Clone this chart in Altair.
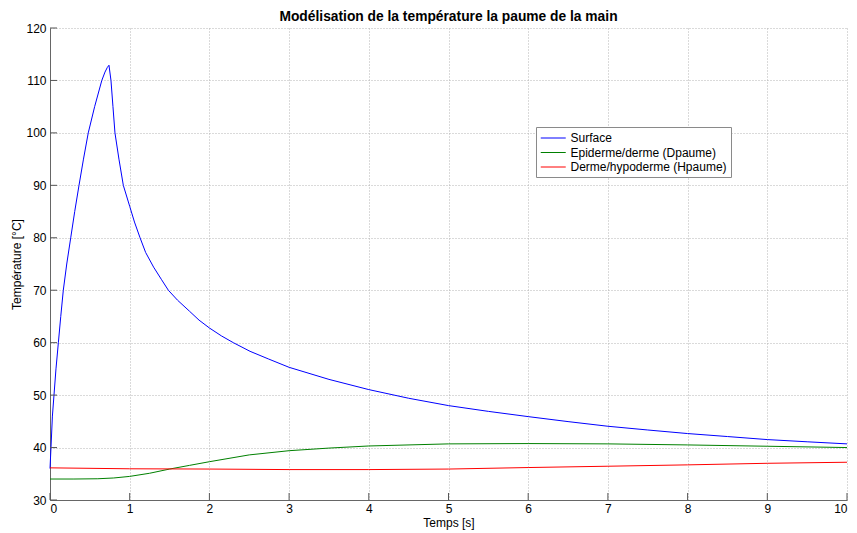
import altair as alt
import pandas as pd

# Surface (blue)
t_surface = [0, 0.0125, 0.03, 0.05, 0.075, 0.105, 0.135, 0.167, 0.21, 0.26, 0.31, 0.364, 0.42,
             0.48, 0.56, 0.65, 0.69, 0.72, 0.74,
             0.765, 0.79, 0.815, 0.865, 0.92, 1.0, 1.06, 1.13, 1.2, 1.3, 1.4, 1.485, 1.6, 1.75,
             1.87, 2.0, 2.15, 2.3, 2.51, 2.74, 3.0,
             3.5, 4.0, 4.5, 5.0, 5.5, 6.0, 6.5, 7.0, 7.5, 8.0, 8.5, 9.0, 9.5, 10.0]
T_surface = [36, 40, 46, 50, 55, 60, 65, 70, 75, 80, 85, 90, 95,
             100, 105, 110, 111.6, 112.5, 112.9,
             110, 105, 100, 95, 90, 86, 83, 80, 77.2, 74.4, 72, 70, 68.1, 66.0,
             64.3, 62.8, 61.3, 60, 58.35, 56.9, 55.3,
             53.0, 51.05, 49.4, 48.0, 46.9, 45.9, 44.95, 44.06, 43.35, 42.67, 42.1, 41.52, 41.1, 40.7]

# Epiderme/derme (green)
t_dpaume = [0, 0.3, 0.6, 0.8, 1.0, 1.25, 1.5, 1.75, 2.0, 2.5, 3.0, 3.5, 4.0, 5.0, 6.0, 7.0, 8.0, 9.0, 10.0]
T_dpaume = [34.0, 34.0, 34.05, 34.2, 34.5, 35.1, 35.9, 36.6, 37.3, 38.6, 39.4, 39.9, 40.3, 40.7, 40.76,
            40.7, 40.5, 40.25, 40.0]

# Derme/hypoderme (red)
t_hpaume = [0, 1, 2, 3, 4, 5, 6, 7, 8, 9, 10]
T_hpaume = [36.13, 35.95, 35.9, 35.8, 35.8, 35.9, 36.19, 36.44, 36.7, 37.0, 37.2]

series_names = ["Surface", "Epiderme/derme (Dpaume)", "Derme/hypoderme (Hpaume)"]
series_colors = ["#0000ff", "#008000", "#ff0000"]

x_ticks = list(range(0, 11))
y_ticks = list(range(30, 121, 10))

rows = []
for name, ts, Ts in zip(series_names, [t_surface, t_dpaume, t_hpaume], [T_surface, T_dpaume, T_hpaume]):
    for i, (a, b) in enumerate(zip(ts, Ts)):
        rows.append({"serie": name, "t": a, "T": b, "i": i})
df = pd.DataFrame(rows)

W, H = 797, 472
FONT = "Liberation Sans"

x_scale = alt.Scale(domain=[0, 10], nice=False, zero=False)
y_scale = alt.Scale(domain=[30, 120], nice=False, zero=False)
x_axis = alt.Axis(values=x_ticks, title="Temps [s]", ticks=False, grid=True, labelPadding=3,
                  titlePadding=3)
y_axis = alt.Axis(values=y_ticks, title="Température [°C]", ticks=False, grid=True, labelPadding=4,
                  titlePadding=2)

lines = alt.Chart(df).mark_line(strokeWidth=1, interpolate="linear").encode(
    x=alt.X("t:Q", scale=x_scale, axis=x_axis),
    y=alt.Y("T:Q", scale=y_scale, axis=y_axis),
    color=alt.Color("serie:N", scale=alt.Scale(domain=series_names, range=series_colors),
                    legend=alt.Legend(title=None, orient="none", legendX=486, legendY=99,
                                      symbolType="M-1,0H3", symbolSize=156, symbolStrokeWidth=1,
                                      labelFontSize=12, labelFont=FONT, labelColor="#000000",
                                      strokeColor="#8a8a8a", fillColor="#ffffff",
                                      padding=4, rowPadding=1.5, labelOffset=16.5,
                                      labelLimit=300)),
    order="i:Q",
)

ydf = pd.DataFrame({"T": y_ticks})
xdf = pd.DataFrame({"t": x_ticks})

yt = alt.Chart(ydf).mark_rule(color="#555555", strokeWidth=1).encode(
    y=alt.Y("T:Q", scale=y_scale, axis=y_axis),
    x=alt.value(0), x2=alt.value(7),
)
xt = alt.Chart(xdf).mark_rule(color="#555555", strokeWidth=1).encode(
    x=alt.X("t:Q", scale=x_scale, axis=x_axis),
    y=alt.value(H), y2=alt.value(H - 7),
)

chart = alt.layer(lines, yt, xt).properties(
    width=W, height=H,
    background="#ffffff",
    autosize=alt.AutoSizeParams(type="none"),
    padding={"left": 42, "top": 20, "right": 2, "bottom": 30},
    title=alt.TitleParams("Modélisation de la température la paume de la main", fontSize=13.8,
                          font=FONT, fontWeight="bold", color="#000000", offset=0, dy=2,
                          anchor="middle"),
).configure_view(stroke=None).configure_axis(
    domainColor="#666666", domainWidth=1,
    gridColor="#b4b4b4", gridDash=[1, 2], gridWidth=1, gridOpacity=1,
    labelFont=FONT, labelFontSize=12, labelColor="#000000",
    titleFont=FONT, titleFontSize=12, titleFontWeight="normal", titleColor="#000000",
)

chart.save("out.html", embed_options={"renderer": "svg", "actions": False})
